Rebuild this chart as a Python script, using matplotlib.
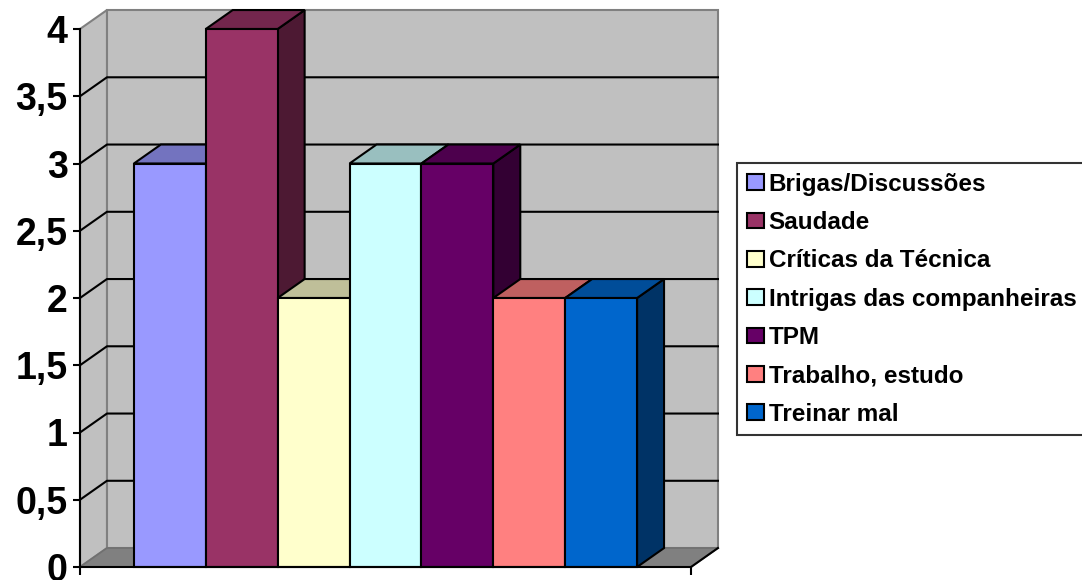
import numpy as np
import matplotlib
matplotlib.use('Agg')
import matplotlib.pyplot as plt
from matplotlib.patches import Polygon, Rectangle

# dados
categorias = ['Brigas/Discussões', 'Saudade', 'Críticas da Técnica',
              'Intrigas das companheiras', 'TPM', 'Trabalho, estudo', 'Treinar mal']
valores = [3, 4, 2, 3, 3, 2, 2]
cores_frente = ['#9999FF', '#993366', '#FFFFCC', '#CCFFFF', '#660066', '#FF8080', '#0066CC']
cores_topo = ['#7373BF', '#73264D', '#BFBF99', '#99BFBF', '#4D004D', '#BF6060', '#004D99']
cores_lado = ['#4D4D80', '#4D1933', '#808066', '#668080', '#330033', '#804040', '#003366']
y_ticks = [0, 0.5, 1, 1.5, 2, 2.5, 3, 3.5, 4]
y_labels = ['0', '0,5', '1', '1,5', '2', '2,5', '3', '3,5', '4']

plt.rcParams['font.family'] = ['Liberation Sans', 'DejaVu Sans']

# profundidade do efeito 3D (em unidades dos eixos)
dx = 0.375
dy = 0.141
x0, x1 = -0.75, 7.75
ymax = 4

fig = plt.figure(figsize=(10.82, 5.80), dpi=100)
ax = fig.add_axes([80 / 1082, 13 / 580, 611 / 1082, 538 / 580])
ax.set_xlim(x0, x1)
ax.set_ylim(0, ymax)
ax.patch.set_visible(False)

# paredes e chao
parede_fundo = Polygon([(x0 + dx, dy), (x1 + dx, dy), (x1 + dx, ymax + dy), (x0 + dx, ymax + dy)],
                       closed=True, facecolor='#C0C0C0', edgecolor='#808080', lw=1.5,
                       clip_on=False, zorder=1)
parede_esq = Polygon([(x0, 0), (x0 + dx, dy), (x0 + dx, ymax + dy), (x0, ymax)],
                     closed=True, facecolor='#C0C0C0', edgecolor='#808080', lw=1.5,
                     clip_on=False, zorder=1)
chao = Polygon([(x0, 0), (x1, 0), (x1 + dx, dy), (x0 + dx, dy)],
               closed=True, facecolor='#808080', edgecolor='#707070', lw=1.2,
               clip_on=False, zorder=1)
for p in [parede_fundo, parede_esq, chao]:
    ax.add_patch(p)
ax.plot([x1, x1 + dx], [0, dy], color='black', lw=1.5, clip_on=False, zorder=2)

# linhas de grade
for v in y_ticks[1:-1]:
    ax.plot([x0, x0 + dx, x1 + dx], [v, v + dy, v + dy], color='black', lw=1.5,
            clip_on=False, zorder=2)

# barras 3D
for i, v in enumerate(valores):
    frente = Rectangle((i, 0), 1, v, facecolor=cores_frente[i], edgecolor='black',
                       lw=1.5, clip_on=False, zorder=3)
    topo = Polygon([(i, v), (i + dx, v + dy), (i + 1 + dx, v + dy), (i + 1, v)],
                   closed=True, facecolor=cores_topo[i], edgecolor='black', lw=1.5,
                   clip_on=False, zorder=3)
    lado = Polygon([(i + 1, 0), (i + 1 + dx, dy), (i + 1 + dx, v + dy), (i + 1, v)],
                   closed=True, facecolor=cores_lado[i], edgecolor='black', lw=1.5,
                   clip_on=False, zorder=3)
    ax.add_patch(lado)
    ax.add_patch(topo)
    ax.add_patch(frente)

# eixos
for s in ['top', 'right']:
    ax.spines[s].set_visible(False)
for s in ['left', 'bottom']:
    ax.spines[s].set_linewidth(1.5)
    ax.spines[s].set_zorder(5)
ax.set_yticks(y_ticks, y_labels)
ax.set_xticks([x0, x1], ['', ''])
ax.tick_params(axis='y', direction='out', length=5, width=1.5, pad=4, labelsize=27)
ax.tick_params(axis='x', direction='out', length=6, width=1.5)
for lbl in ax.get_yticklabels():
    lbl.set_fontweight('bold')

# legenda
handles = [Rectangle((0, 0), 1, 1, facecolor=c, edgecolor='black', lw=1.5) for c in cores_frente]
leg = fig.legend(handles, categorias, loc='upper left',
                 bbox_to_anchor=(737 / 1082, 1 - 163 / 580),
                 frameon=True, fancybox=False, edgecolor='black',
                 prop={'weight': 'bold', 'size': 17.5},
                 handlelength=0.7, handleheight=0.62, handletextpad=0.2,
                 labelspacing=0.63, borderpad=0.4, borderaxespad=0)
leg.get_frame().set_linewidth(1.5)

fig.savefig('out.png', dpi=100)
